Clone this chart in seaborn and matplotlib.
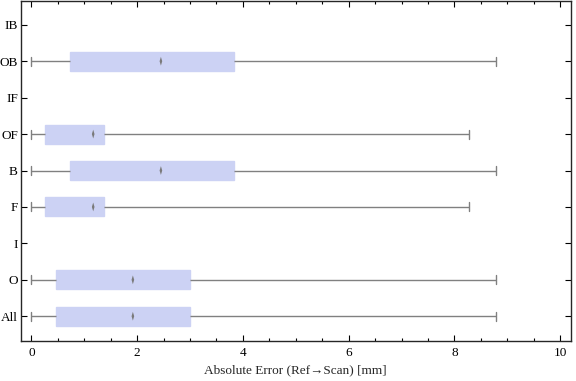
import matplotlib
matplotlib.use('Agg')
import matplotlib.pyplot as plt
import seaborn as sns
import pandas as pd
from matplotlib.ticker import MultipleLocator

# categories, top to bottom
groups = ['IB', 'OB', 'IF', 'OF', 'B', 'F', 'I', 'O', 'All']

# five-number summaries (IB, IF, I are empty)
whisker_lo = {'OB': 0.0, 'OF': 0.0, 'B': 0.0, 'F': 0.0, 'O': 0.0, 'All': 0.0}
q1 = {'OB': 0.74, 'OF': 0.26, 'B': 0.74, 'F': 0.26, 'O': 0.47, 'All': 0.47}
median = {'OB': 2.45, 'OF': 1.17, 'B': 2.45, 'F': 1.17, 'O': 1.92, 'All': 1.92}
q3 = {'OB': 3.83, 'OF': 1.38, 'B': 3.83, 'F': 1.38, 'O': 3.00, 'All': 3.00}
whisker_hi = {'OB': 8.79, 'OF': 8.28, 'B': 8.79, 'F': 8.28, 'O': 8.79, 'All': 8.79}

rows = []
for g in whisker_lo:
    for v in (whisker_lo[g], q1[g], median[g], q3[g], whisker_hi[g]):
        rows.append({'group': g, 'err': v})
df = pd.DataFrame(rows)
med_df = pd.DataFrame({'group': list(median), 'err': list(median.values())})

sns.set_theme(style='ticks')
plt.rcParams['font.family'] = ['Liberation Serif', 'DejaVu Serif']

fig = plt.figure(figsize=(5.76, 3.81), dpi=100)
ax = fig.add_axes([0.036, 0.105, 0.955, 0.893])

box_color = '#ccd2f4'
line_color = '#808080'
sns.boxplot(data=df, x='err', y='group', order=groups, whis=(0, 100),
            width=0.52, color=box_color, fill=True, linewidth=1.0,
            boxprops=dict(edgecolor=box_color, facecolor=box_color),
            whiskerprops=dict(color=line_color, linewidth=1.0),
            capprops=dict(color=line_color, linewidth=1.0),
            medianprops=dict(visible=False),
            capwidths=0.25, showfliers=False, ax=ax)

# thin diamond for the median
thin_diamond = [(0, 1), (0.3, 0), (0, -1), (-0.3, 0), (0, 1)]
sns.scatterplot(data=med_df, x='err', y='group', marker=thin_diamond, s=40,
                color='#7a7a7a', edgecolor='none', ax=ax, zorder=5)

ax.set_xlim(-0.2, 10.2)
ax.set_ylim(8.68, -0.66)
ax.xaxis.set_major_locator(MultipleLocator(2))
ax.xaxis.set_minor_locator(MultipleLocator(0.5))
ax.tick_params(axis='both', which='both', direction='in', top=True, right=True,
               labelsize=9.5, colors='black', width=0.8)
ax.tick_params(which='major', length=4)
ax.tick_params(which='minor', length=2.5)
ax.tick_params(axis='x', pad=4)
ax.tick_params(axis='y', pad=2)
for s in ax.spines.values():
    s.set_linewidth(1.0)
    s.set_visible(True)
ax.set_xlabel('Absolute Error (Ref\u2192Scan) [mm]', fontsize=9.5)
ax.set_ylabel('')

plt.savefig('out.png', dpi=100)
